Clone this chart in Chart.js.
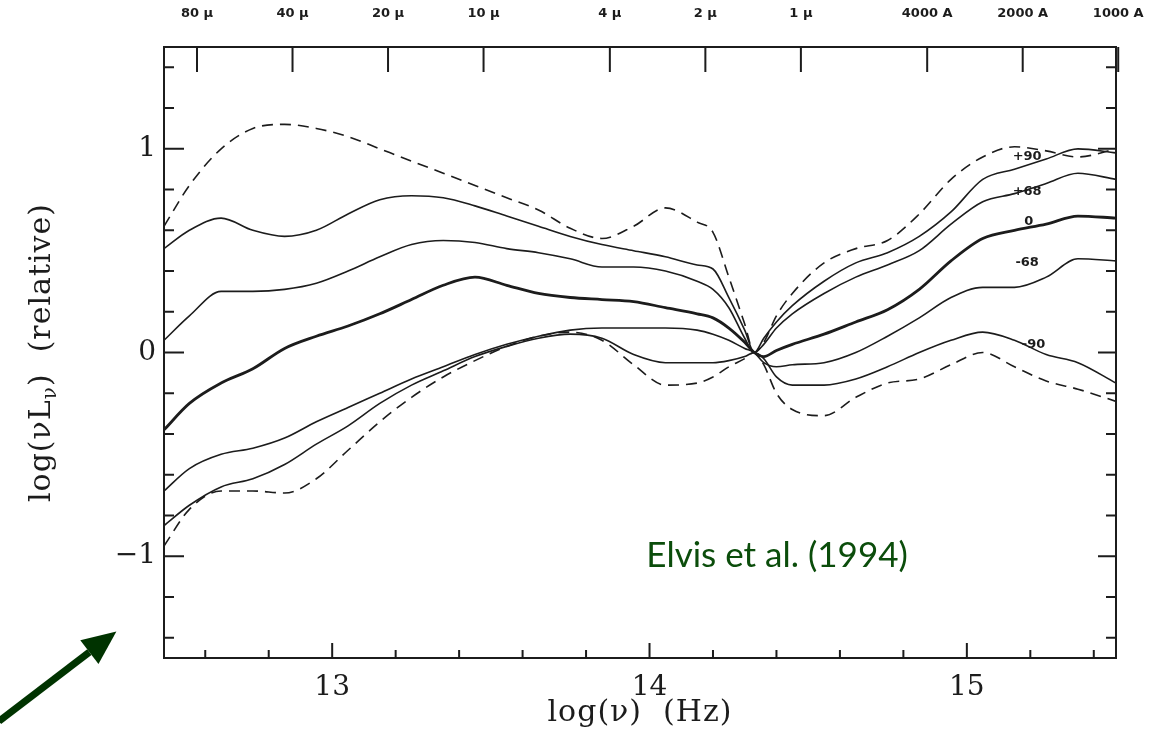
<!DOCTYPE html>
<html>
<head>
<meta charset="utf-8">
<script src="https://cdn.jsdelivr.net/npm/chart.js@4"></script>
<style>
  html, body { margin: 0; padding: 0; background: #fff; }
  #wrap { width: 1165px; height: 741px; }
</style>
</head>
<body>
<div id="wrap"><canvas id="sed" width="1165" height="741"></canvas></div>
<script>
// log(nu) grid shared by all curves
const logNu = [12.47, 12.55, 12.65, 12.75, 12.85, 12.95, 13.05, 13.15, 13.25, 13.35, 13.45, 13.55, 13.65, 13.75, 13.85, 13.95, 14.05, 14.15, 14.2, 14.25, 14.3, 14.33, 14.36, 14.4, 14.45, 14.55, 14.65, 14.75, 14.85, 14.95, 15.05, 15.15, 15.25, 15.35, 15.47]

// upper / lower envelopes (dashed)
const dashHi = [0.62, 0.82, 1.0, 1.1, 1.12, 1.1, 1.06, 1.0, 0.94, 0.88, 0.82, 0.76, 0.70, 0.61, 0.56, 0.62, 0.71, 0.64, 0.59, 0.37, 0.14, 0.0, 0.05, 0.18, 0.29, 0.44, 0.51, 0.55, 0.68, 0.85, 0.96, 1.01, 0.99, 0.96, 1.0]
const dashLo = [-0.95, -0.77, -0.68, -0.68, -0.69, -0.62, -0.48, -0.34, -0.22, -0.12, -0.04, 0.03, 0.08, 0.10, 0.06, -0.06, -0.16, -0.15, -0.12, -0.07, -0.03, 0.0, -0.06, -0.20, -0.28, -0.31, -0.22, -0.15, -0.13, -0.06, 0.0, -0.07, -0.14, -0.18, -0.24]

// inclination curves
const p90 = [0.51, 0.60, 0.66, 0.60, 0.57, 0.60, 0.68, 0.75, 0.77, 0.76, 0.72, 0.67, 0.62, 0.57, 0.53, 0.50, 0.47, 0.43, 0.41, 0.27, 0.11, 0.0, 0.07, 0.15, 0.23, 0.35, 0.44, 0.49, 0.57, 0.69, 0.85, 0.90, 0.95, 1.0, 0.98]
const p68 = [0.06, 0.18, 0.30, 0.30, 0.31, 0.34, 0.40, 0.47, 0.53, 0.55, 0.54, 0.51, 0.49, 0.46, 0.42, 0.42, 0.40, 0.35, 0.31, 0.22, 0.07, 0.0, 0.04, 0.12, 0.19, 0.29, 0.37, 0.43, 0.50, 0.63, 0.74, 0.78, 0.83, 0.88, 0.85]
const z0 = [-0.38, -0.25, -0.15, -0.08, 0.02, 0.08, 0.13, 0.19, 0.26, 0.33, 0.37, 0.33, 0.29, 0.27, 0.26, 0.25, 0.22, 0.19, 0.17, 0.12, 0.05, 0.0, -0.02, 0.01, 0.04, 0.09, 0.15, 0.21, 0.31, 0.45, 0.56, 0.60, 0.63, 0.67, 0.66]
const m68 = [-0.68, -0.57, -0.50, -0.47, -0.42, -0.34, -0.27, -0.20, -0.13, -0.07, -0.01, 0.04, 0.08, 0.11, 0.12, 0.12, 0.12, 0.11, 0.09, 0.06, 0.02, 0.0, -0.05, -0.07, -0.06, -0.05, 0.0, 0.08, 0.17, 0.27, 0.32, 0.32, 0.37, 0.46, 0.45]
const m90 = [-0.85, -0.75, -0.66, -0.62, -0.55, -0.45, -0.36, -0.25, -0.16, -0.09, -0.02, 0.03, 0.07, 0.09, 0.07, -0.01, -0.05, -0.05, -0.05, -0.04, -0.02, 0.0, -0.03, -0.12, -0.16, -0.16, -0.13, -0.07, 0.0, 0.06, 0.10, 0.06, -0.01, -0.05, -0.15]

// curve labels near right edge
const curveLbl = ['+90', '+68', '0', '-68', '-90']
const curveLblX = [15.19, 15.19, 15.195, 15.19, 15.21]
const curveLblY = [0.96, 0.79, 0.645, 0.44, 0.04]

// axes ticks
const xMajor = [13, 14, 15]
const xMinor = [12.6, 12.8, 13.2, 13.4, 13.6, 13.8, 14.2, 14.4, 14.6, 14.8, 15.2, 15.4]
const yMajor = [-1, 0, 1]
const yMinor = [-1.4, -1.2, -0.8, -0.6, -0.4, -0.2, 0.2, 0.4, 0.6, 0.8, 1.2, 1.4]
const yTickLbl = ['\u22121', '0', '1']

// top wavelength axis
const topLbl = ['80 \u03bc', '40 \u03bc', '20 \u03bc', '10 \u03bc', '4 \u03bc', '2 \u03bc', '1 \u03bc', '4000 A', '2000 A', '1000 A']
const topNu = [12.574, 12.875, 13.176, 13.477, 13.875, 14.176, 14.477, 14.875, 15.176, 15.477]

// annotation + arrow (data units)
const noteText = 'Elvis et al. (1994)'
const notePos = [13.99, -1.0]
const arrowFrom = [11.95, -1.81]
const arrowTo = [12.32, -1.37]


const ink = '#1c1c1c'
const serif = '"DejaVu Serif", "Liberation Serif", serif'
const bold = 'bold 13px "DejaVu Sans", Arial, sans-serif'

function pts(arr) {
    return logNu.map((v, i) => ({ x: v, y: arr[i] }))
}

function curve(label, arr, width, dashed) {
    return {
        label: label,
        data: pts(arr),
        borderColor: ink,
        borderWidth: width,
        borderDash: dashed ? [11, 7] : [],
        pointRadius: 0,
        fill: false,
        cubicInterpolationMode: 'monotone'
    }
}

// frame, inward ticks, labels, titles
const frame = {
    id: 'frame',
    afterDraw(chart) {
        const { ctx, chartArea: a, scales: { x, y } } = chart
        ctx.save()
        ctx.strokeStyle = ink
        ctx.lineWidth = 2
        ctx.strokeRect(a.left, a.top, a.right - a.left, a.bottom - a.top)

        ctx.beginPath()
        xMinor.forEach(v => { const p = x.getPixelForValue(v); ctx.moveTo(p, a.bottom); ctx.lineTo(p, a.bottom - 8) })
        xMajor.forEach(v => { const p = x.getPixelForValue(v); ctx.moveTo(p, a.bottom); ctx.lineTo(p, a.bottom - 15) })
        yMinor.forEach(v => {
            const p = y.getPixelForValue(v)
            ctx.moveTo(a.left, p); ctx.lineTo(a.left + 10, p)
            ctx.moveTo(a.right, p); ctx.lineTo(a.right - 10, p)
        })
        yMajor.forEach(v => {
            const p = y.getPixelForValue(v)
            ctx.moveTo(a.left, p); ctx.lineTo(a.left + 20, p)
            ctx.moveTo(a.right, p); ctx.lineTo(a.right - 18, p)
        })
        topNu.forEach(v => { const p = x.getPixelForValue(v); ctx.moveTo(p, a.top); ctx.lineTo(p, a.top + 25) })
        ctx.stroke()

        ctx.fillStyle = ink
        // bottom tick labels
        ctx.font = '28px ' + serif
        ctx.textAlign = 'center'
        ctx.textBaseline = 'middle'
        xMajor.forEach(v => ctx.fillText(String(v), x.getPixelForValue(v), a.bottom + 30))
        // left tick labels
        ctx.textAlign = 'right'
        yMajor.forEach((v, i) => ctx.fillText(yTickLbl[i], a.left - 8, y.getPixelForValue(v)))

        // top wavelength labels
        ctx.font = bold
        ctx.textAlign = 'center'
        topNu.forEach((v, i) => ctx.fillText(topLbl[i], x.getPixelForValue(v), 14))

        // curve labels
        ctx.font = bold
        curveLbl.forEach((t, i) => ctx.fillText(t, x.getPixelForValue(curveLblX[i]), y.getPixelForValue(curveLblY[i])))

        // x title
        ctx.font = '30px ' + serif
        ctx.letterSpacing = '1px'
        ctx.fillText('log(\u03bd)  (Hz)', (a.left + a.right) / 2, a.bottom + 55)

        // y title with subscript
        ctx.translate(42, (a.top + a.bottom) / 2)
        ctx.rotate(-Math.PI / 2)
        const partA = 'log(\u03bdL', sub = '\u03bd', partB = ')  (relative)'
        ctx.font = '30px ' + serif
        const wA = ctx.measureText(partA).width, wB = ctx.measureText(partB).width
        ctx.font = '20px ' + serif
        const wS = ctx.measureText(sub).width
        let sx = -(wA + wS + wB) / 2
        ctx.textAlign = 'left'
        ctx.font = '30px ' + serif
        ctx.fillText(partA, sx, 0)
        ctx.font = '20px ' + serif
        ctx.fillText(sub, sx + wA, 9)
        ctx.font = '30px ' + serif
        ctx.fillText(partB, sx + wA + wS, 0)
        ctx.restore()

        // annotation text
        ctx.save()
        ctx.fillStyle = '#0b4d0b'
        ctx.font = '35px "Comic Sans MS", Lato, sans-serif'
        ctx.textAlign = 'left'
        ctx.textBaseline = 'middle'
        ctx.fillText(noteText, x.getPixelForValue(notePos[0]), y.getPixelForValue(notePos[1]))

        // arrow
        const x0 = x.getPixelForValue(arrowFrom[0]), y0 = y.getPixelForValue(arrowFrom[1])
        const x1 = x.getPixelForValue(arrowTo[0]), y1 = y.getPixelForValue(arrowTo[1])
        const ang = Math.atan2(y1 - y0, x1 - x0)
        const hl = 34, hw = 15
        const bx = x1 - hl * Math.cos(ang), by = y1 - hl * Math.sin(ang)
        ctx.strokeStyle = '#003300'
        ctx.fillStyle = '#003300'
        ctx.lineWidth = 7
        ctx.beginPath(); ctx.moveTo(x0, y0); ctx.lineTo(bx, by); ctx.stroke()
        ctx.beginPath()
        ctx.moveTo(x1, y1)
        ctx.lineTo(bx + hw * Math.sin(ang), by - hw * Math.cos(ang))
        ctx.lineTo(bx - hw * Math.sin(ang), by + hw * Math.cos(ang))
        ctx.closePath(); ctx.fill()
        ctx.restore()
    }
}

const config = {
    type: 'line',
    data: {
        datasets: [
            curve('upper', dashHi, 1.6, true),
            curve('+90', p90, 1.6, false),
            curve('+68', p68, 1.6, false),
            curve('0', z0, 2.8, false),
            curve('-68', m68, 1.6, false),
            curve('-90', m90, 1.6, false),
            curve('lower', dashLo, 1.6, true)
        ]
    },
    options: {
        responsive: false,
        animation: false,
        layout: { padding: { left: 164, right: 49, top: 47, bottom: 83 } },
        plugins: { legend: { display: false }, tooltip: { enabled: false } },
        scales: {
            x: { type: 'linear', min: 12.47, max: 15.47, display: false },
            y: { type: 'linear', min: -1.5, max: 1.5, display: false }
        }
    },
    plugins: [frame]
}

new Chart(document.getElementById('sed').getContext('2d'), config)
</script>
</body>
</html>
